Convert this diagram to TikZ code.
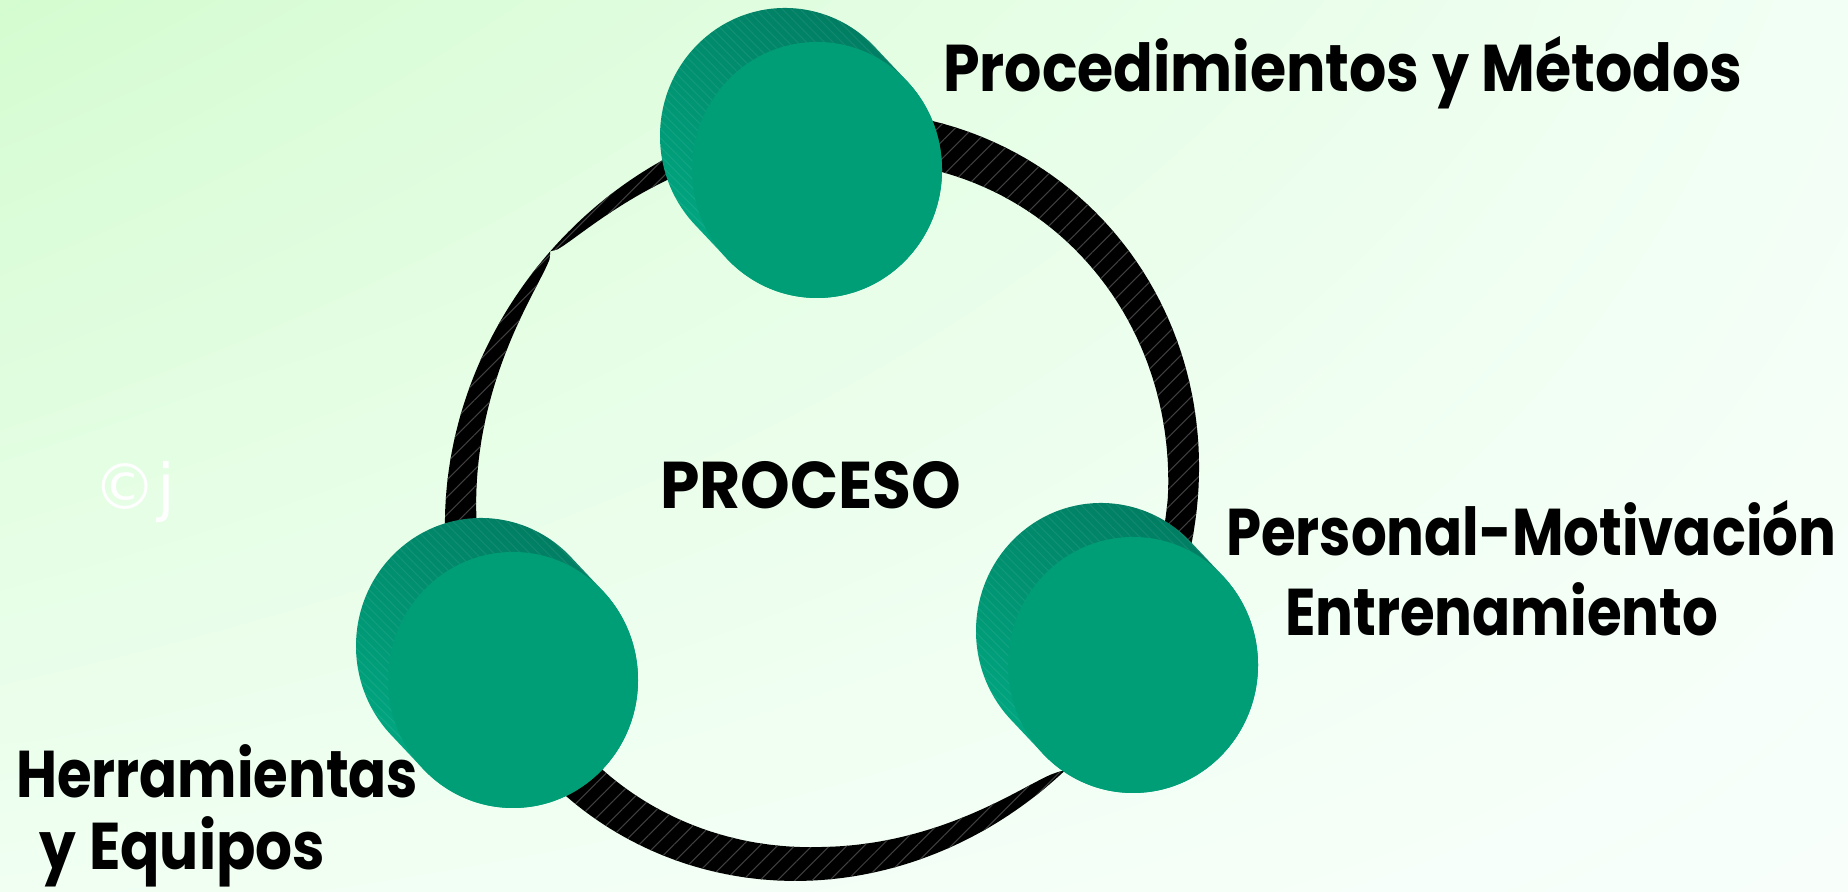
\documentclass[tikz,border=0pt]{standalone}
\usepackage{fontspec}
\usepackage{graphicx}
\setmainfont{Poppins}
\newfontfamily\marksans{DejaVu Sans}
\usetikzlibrary{patterns.meta,shadings}

\definecolor{bgTL}{RGB}{212,252,208}
\definecolor{bgTR}{RGB}{242,255,245}
\definecolor{bgBL}{RGB}{240,255,242}
\definecolor{bgBR}{RGB}{248,255,251}
\definecolor{diskface}{RGB}{0,158,119}
\definecolor{diskdark}{RGB}{0,122,96}
\definecolor{disklight}{RGB}{0,172,132}

\tikzset{
  band/.style={fill=black,
    postaction={pattern={Lines[angle=45,distance=3.5pt,line width=0.3pt]},
                pattern color=black!75}},
  diskside/.style={top color=diskdark, bottom color=disklight, shading angle=-30},
  diskhatch/.style={pattern={Lines[angle=-45,distance=1.8pt,line width=0.3pt]},
                    pattern color=white, opacity=0.07},
  lbl/.style={inner sep=0pt, outer sep=0pt, text=black,
              font=\bfseries\fontsize{18.8}{22}\selectfont},
  declare function={
    % outer edge of the ring, as a radius around its centre
    ringR(\a)=380+14*sin(2*\a)-4*cos(2*\a);
    % band widths along each stretch of the ring
    tA(\a)=30+0.24*max(\a,0);
    tB(\a)=(\a>-90)*33*sqrt(max(0,(-49-\a)/41))+(\a<=-90)*(33+0.275*(-90-\a));
    tC(\a)=(\a>=138)*((\a<185)*32*sqrt(max(0,(\a-138)/47))+(\a>=185)*32)
          +(\a<138)*20*sqrt(max(0,(138-\a)/23));
  },
}

% a flat green cylinder seen slightly from the upper left
\newcommand{\drawdisk}[2]{%
  \begin{scope}[shift={(#1,#2)}]
    \path[diskside] (43:125 and 128) -- ++(-32,34)
      arc[start angle=43, end angle=223, x radius=125, y radius=128]
      -- (223:125 and 128)
      arc[start angle=223, end angle=403, x radius=125, y radius=128] -- cycle;
    \path[diskhatch] (43:125 and 128) -- ++(-32,34)
      arc[start angle=43, end angle=223, x radius=125, y radius=128]
      -- (223:125 and 128)
      arc[start angle=223, end angle=403, x radius=125, y radius=128] -- cycle;
    \fill[diskface] (0,0) ellipse[x radius=125, y radius=128];
  \end{scope}}

\begin{document}
\begin{tikzpicture}[x=0.01cm, y=0.01cm]
\useasboundingbox (0,0) rectangle (1848,892);
\shade[upper left=bgTL, upper right=bgTR, lower left=bgBL, lower right=bgBR]
  (0,0) rectangle (1848,892);

% the twisted black ring, in stretches between the disks
\path[band]
  plot[domain=80:-15, samples=60, variable=\a] ({822+ringR(\a)*cos(\a)},{396+ringR(\a)*sin(\a)})
  -- plot[domain=-15:80, samples=60, variable=\a] ({822+(ringR(\a)-tA(\a))*cos(\a)},{396+(ringR(\a)-tA(\a))*sin(\a)})
  -- cycle;
\path[band]
  plot[domain=-45:-135, samples=80, variable=\a] ({822+ringR(\a)*cos(\a)},{396+ringR(\a)*sin(\a)})
  -- plot[domain=-135:-45, samples=80, variable=\a] ({822+(ringR(\a)-tB(\a))*cos(\a)},{396+(ringR(\a)-tB(\a))*sin(\a)})
  -- cycle;
\path[band]
  plot[domain=200:100, samples=101, variable=\a] ({822+ringR(\a)*cos(\a)},{396+ringR(\a)*sin(\a)})
  -- plot[domain=100:200, samples=101, variable=\a] ({822+(ringR(\a)-tC(\a))*cos(\a)},{396+(ringR(\a)-tC(\a))*sin(\a)})
  -- cycle;

% the three disks
\drawdisk{817}{722}
\drawdisk{1133}{227}
\drawdisk{513}{212}

% labels
\node[lbl, anchor=base west] (metodos) at (943,800) {\resizebox{7.99cm}{\height}{Procedimientos y Métodos}};
\node[lbl, anchor=base west] (proceso) at (660,383) {\resizebox{3.01cm}{\height}{PROCESO}};
\node[lbl, anchor=base west] (personal) at (1226,336) {\resizebox{6.10cm}{\height}{Personal-Motivación}};
\node[lbl, anchor=base west] (entrena) at (1285,256) {\resizebox{4.33cm}{\height}{Entrenamiento}};
\node[lbl, anchor=base west] (herram) at (16,94) {\resizebox{4.02cm}{\height}{Herramientas}};
\node[lbl, anchor=base west] (equipos) at (40,22) {\resizebox{2.85cm}{\height}{y Equipos}};
\node[inner sep=0pt, anchor=base west, text=white, font=\marksans\fontsize{18}{20}\selectfont] (marca) at (93,382) {©j};
\end{tikzpicture}
\end{document}
